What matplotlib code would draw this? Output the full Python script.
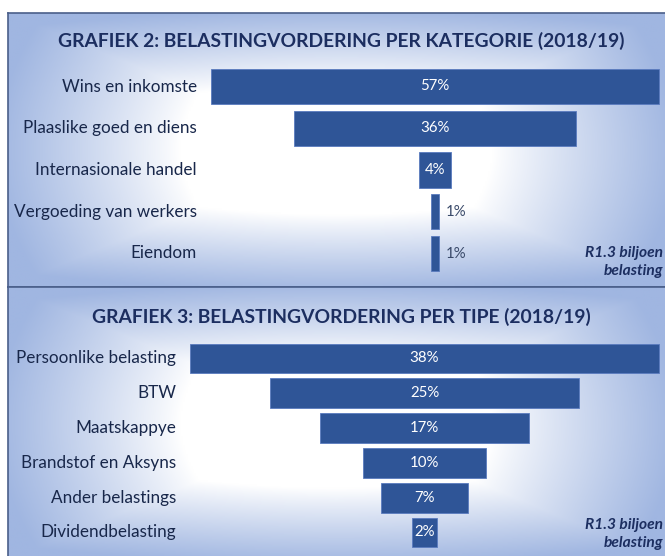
import numpy as np
import matplotlib
matplotlib.use("Agg")
import matplotlib.pyplot as plt
from matplotlib.colors import LinearSegmentedColormap

# ---- data ----
title1 = "GRAFIEK 2: BELASTINGVORDERING PER KATEGORIE (2018/19)"
cats1 = ["Wins en inkomste", "Plaaslike goed en diens", "Internasionale handel",
         "Vergoeding van werkers", "Eiendom"]
vals1 = [57, 36, 4, 1, 1]

title2 = "GRAFIEK 3: BELASTINGVORDERING PER TIPE (2018/19)"
cats2 = ["Persoonlike belasting", "BTW", "Maatskappye", "Brandstof en Aksyns",
         "Ander belastings", "Dividendbelasting"]
vals2 = [38, 25, 17, 10, 7, 2]

note = "R1.3 biljoen\nbelasting"

# ---- style ----
plt.rcParams['font.family'] = ['Lato', 'DejaVu Sans']
BAR = "#2f5597"
TXT = "#18274a"
TITLE = "#1c2e60"
EDGE = "#a0b6e1"

W, H = 665, 556
fig = plt.figure(figsize=(W / 100, H / 100), dpi=100)
fig.patch.set_facecolor("white")

cmap = LinearSegmentedColormap.from_list("bg", ["white", EDGE])

def gradient(nx=400, ny=200):
    x = np.linspace(-1, 1, nx)
    y = np.linspace(-1, 1, ny)
    X, Y = np.meshgrid(x, y)
    t = np.maximum(np.abs(X), np.abs(Y))
    r = np.sqrt(X ** 2 + Y ** 2) / np.sqrt(2)
    v = 0.6 * t + 0.4 * r
    return np.clip((v - 0.42) / 0.5, 0, 1) ** 0.9

def panel(y0, y1, title, cats, vals, cx, scale, c0, step, bh, title_y, label_x, note_y):
    x0, x1 = 8, 665
    ax = fig.add_axes([x0 / W, 1 - y1 / H, (x1 - x0) / W, (y1 - y0) / H])
    ax.imshow(gradient(), cmap=cmap, vmin=0, vmax=1, extent=[0, 1, 0, 1],
              transform=ax.transAxes, aspect="auto", zorder=0, interpolation="bilinear")
    ax.set_xlim((x0 - cx) / scale, (x1 - cx) / scale)
    ax.set_ylim((y1 - c0) / step, (y0 - c0) / step)
    ypos = np.arange(len(cats))
    v = np.array(vals, dtype=float)
    ax.barh(ypos, v, left=-v / 2, height=bh, color=BAR, edgecolor="#5a7bbf",
            linewidth=0.6, zorder=2)
    lx = (label_x - x0) / (x1 - x0)
    for i, (c, val) in enumerate(zip(cats, vals)):
        ax.text(lx, i, c, transform=ax.get_yaxis_transform(), ha="right",
                va="center", fontsize=12.3, color=TXT)
        if val >= 2:
            ax.text(0, i, f"{val}%", ha="center", va="center", fontsize=10.8,
                    color="white", zorder=3)
        else:
            ax.text(val / 2 + 0.9, i, f"{val}%", ha="left", va="center",
                    fontsize=10.8, color="#3a4a6a", zorder=3)
    ax.text(0.507, 1 - (title_y - y0) / (y1 - y0), title, transform=ax.transAxes,
            ha="center", va="center", fontsize=13.9, fontweight="bold", color=TITLE)
    ax.text(0.997, 1 - (note_y - y0) / (y1 - y0), note, transform=ax.transAxes,
            ha="right", va="center", fontsize=11.2, fontweight="bold",
            fontstyle="italic", color=TITLE, linespacing=1.3)
    ax.set_xticks([])
    ax.set_yticks([])
    for s in ["top", "left", "bottom"]:
        ax.spines[s].set_color("#4a5f8a")
        ax.spines[s].set_linewidth(1.2)
    ax.spines["right"].set_visible(False)
    return ax

ax1 = panel(13, 287, title1, cats1, vals1, cx=435, scale=7.86, c0=86.5, step=41.75,
            bh=0.84, title_y=41, label_x=197, note_y=262)
ax2 = panel(287, 560, title2, cats2, vals2, cx=424.5, scale=12.34, c0=358.5, step=34.8,
            bh=0.86, title_y=317, label_x=176, note_y=534)

fig.savefig("out.png", dpi=100)
